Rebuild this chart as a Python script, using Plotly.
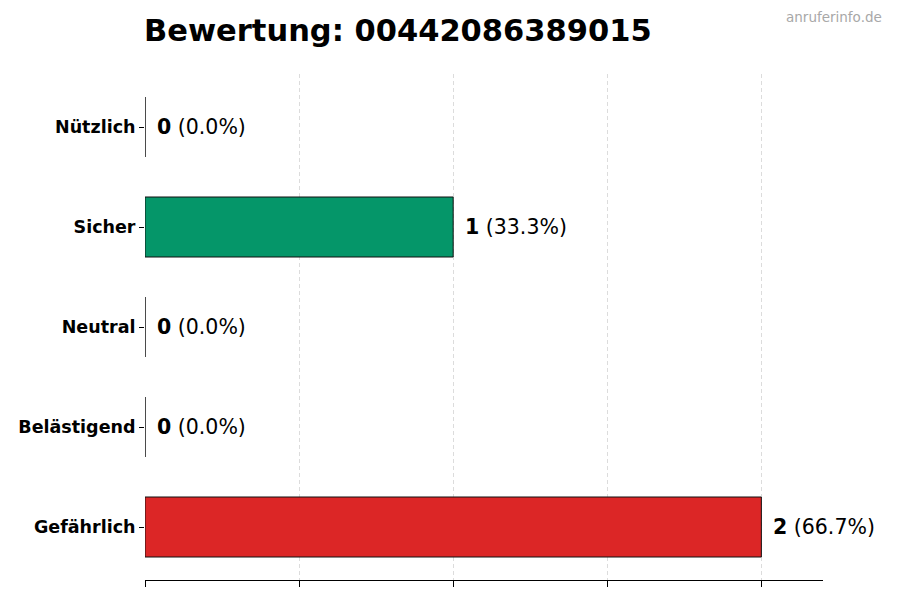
import plotly.graph_objects as go

# Bewertungen fuer die Nummer
kategorien = ["Gefährlich", "Belästigend", "Neutral", "Sicher", "Nützlich"]
anzahl = [2, 0, 0, 1, 0]
farben = ["#dc2626", "#f97316", "#6b7280", "#059669", "#2563eb"]
nummer = "00442086389015"

gesamt = sum(anzahl)
prozent = [a / gesamt * 100 if gesamt else 0 for a in anzahl]

# Seite hat 8px Rand, daher Figur etwas kleiner
W, H = 884, 584
L, R, T, B = 137, 69, 66, 6
plot_w = W - L - R
plot_h = H - T - B

fig = go.Figure()
fig.add_trace(go.Bar(
    x=anzahl, y=kategorien,
    orientation="h",
    width=0.6,
    marker=dict(color=farben, line=dict(color="#111111", width=1)),
    hoverinfo="skip",
))

# Beschriftung rechts neben den Balken
for k, a, p in zip(kategorien, anzahl, prozent):
    fig.add_annotation(
        x=a, y=k, xref="x", yref="y",
        text=f"<b>{a}</b> ({p:.1f}%)",
        showarrow=False, xanchor="left", yanchor="middle",
        xshift=10,
        font=dict(family="DejaVu Sans", size=20.5, color="black"),
    )

fig.add_annotation(
    x=(876 - L) / plot_w, y=1 + (T + 2) / plot_h,
    xref="paper", yref="paper",
    text="anruferinfo.de", showarrow=False,
    xanchor="right", yanchor="top",
    font=dict(family="DejaVu Sans", size=13.5, color="#a8a8a8"),
)

fig.update_layout(
    width=W, height=H,
    plot_bgcolor="white", paper_bgcolor="white",
    margin=dict(l=L, r=R, t=T, b=B),
    showlegend=False,
    title=dict(
        text=f"<b>Bewertung: {nummer}</b>",
        x=(L - 1) / W, xanchor="left", y=1 - 22 / H, yanchor="middle",
        font=dict(family="DejaVu Sans", size=30.5, color="black"),
    ),
    font=dict(family="DejaVu Sans"),
)

fig.update_xaxes(
    range=[0, 2.2],
    tickvals=[0, 0.5, 1, 1.5, 2],
    showticklabels=False,
    ticks="outside", ticklen=6, tickcolor="black",
    showline=True, linecolor="black", linewidth=1,
    showgrid=True, gridcolor="#dcdcdc", griddash="4px,3px", gridwidth=1,
    zeroline=False,
    layer="above traces",
)
fig.update_yaxes(
    range=[-0.53, 4.53],
    ticks="outside", ticklen=5, tickcolor="black",
    showline=False, showgrid=False, zeroline=False,
    tickfont=dict(family="DejaVu Sans", size=17.5, color="black", weight="bold"),
)

fig.write_html("out.html")
